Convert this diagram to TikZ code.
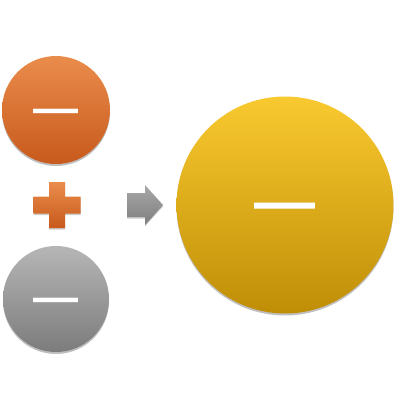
\documentclass[tikz,border=0pt]{standalone}
\usepackage{fontspec}
\newfontfamily\dashfont{Liberation Sans}
\usetikzlibrary{shadows}
\definecolor{orTop}{HTML}{EA8C4C}
\definecolor{orBot}{HTML}{C75A1C}
\definecolor{grTop}{HTML}{B6B6B6}
\definecolor{grBot}{HTML}{7C7C7C}
\definecolor{yeTop}{HTML}{F9C930}
\definecolor{yeBot}{HTML}{C08E06}
\definecolor{arTop}{HTML}{A8A8A8}
\definecolor{arBot}{HTML}{7E7E7E}
\begin{document}
\begin{tikzpicture}[x=1pt,y=-1pt]
\useasboundingbox (0,0) rectangle (400,400);
\tikzset{
  ball/.style={circle, inner sep=0pt, draw=none,
    drop shadow={shadow xshift=0pt, shadow yshift=-2pt, opacity=0.25, fill=black}},
  minuslabel/.style={inner sep=0pt, text=white, anchor=center},
  symshape/.style={draw=none}
}
\node[ball, minimum size=108pt, top color=orTop, bottom color=orBot] (orange) at (56,110) {};
\node[ball, minimum size=106pt, top color=grTop, bottom color=grBot] (gray) at (56,299) {};
\node[ball, minimum size=217pt, top color=yeTop, bottom color=yeBot] (yellow) at (285,205) {};
\node[minuslabel, yshift=-6pt, font=\dashfont\bfseries\fontsize{45}{45}\selectfont] (m1) at (orange.center) {—};
\node[minuslabel, yshift=-6pt, font=\dashfont\bfseries\fontsize{45}{45}\selectfont] (m2) at (gray.center) {—};
\node[minuslabel, yshift=-8pt, font=\dashfont\bfseries\fontsize{61}{61}\selectfont] (m3) at (yellow.center) {—};
% plus sign
\coordinate (plus) at (57,205);
\shade[symshape, top color=orTop, bottom color=orBot,
  drop shadow={shadow xshift=0pt, shadow yshift=-1.5pt, opacity=0.2, fill=black}]
  ([shift={(-8,-23)}]plus) -- ([shift={(8,-23)}]plus) -- ([shift={(8,-8.5)}]plus)
  -- ([shift={(23.5,-8.5)}]plus) -- ([shift={(23.5,8.5)}]plus) -- ([shift={(8,8.5)}]plus)
  -- ([shift={(8,23)}]plus) -- ([shift={(-8,23)}]plus) -- ([shift={(-8,8.5)}]plus)
  -- ([shift={(-23.5,8.5)}]plus) -- ([shift={(-23.5,-8.5)}]plus) -- ([shift={(-8,-8.5)}]plus) -- cycle;
% block arrow
\coordinate (arr) at (127,205);
\shade[symshape, top color=arTop, bottom color=arBot,
  drop shadow={shadow xshift=0pt, shadow yshift=-1.5pt, opacity=0.2, fill=black}]
  ([shift={(0,-12)}]arr) -- ([shift={(18,-12)}]arr) -- ([shift={(18,-20)}]arr)
  -- ([shift={(36,0)}]arr) -- ([shift={(18,20)}]arr) -- ([shift={(18,12)}]arr)
  -- ([shift={(0,12)}]arr) -- cycle;
\end{tikzpicture}
\end{document}
